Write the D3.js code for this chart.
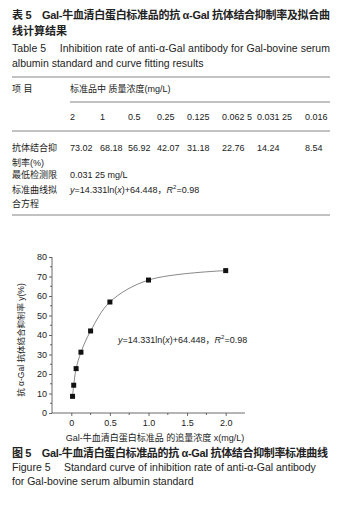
<!DOCTYPE html>
<html>
<head>
<meta charset="utf-8">
<script src="https://cdn.jsdelivr.net/npm/d3@7"></script>
<style>
  body { margin: 0; background: #fff; }
  text { font-family: "Liberation Sans", Arial, "Noto Sans CJK SC", sans-serif; fill: #222; }
</style>
</head>
<body>
<div id="chart"></div>
<script>
// concentrations (mg/L) and inhibition rates (%)
const concentrations = [2, 1, 0.5, 0.25, 0.125, 0.0625, 0.03125, 0.016];
const concLabels = ["2", "1", "0.5", "0.25", "0.125", "0.062 5", "0.031 25", "0.016"];
const inhibition = [73.02, 68.18, 56.92, 42.07, 31.18, 22.76, 14.24, 8.54];
const xTicks = [0, 0.5, 1.0, 1.5, 2.0];
const yTicks = [0, 10, 20, 30, 40, 50, 60, 70, 80];

const W = 338, H = 505;
let svg = d3.select("#chart").append("svg")
  .attr("width", W).attr("height", H);

//table title lines
const cjk = "\"Noto Sans CJK SC\", sans-serif";
function line(x, y, txt, size, opts) {
  let t = svg.append("text").attr("x", x).attr("y", y)
    .attr("dominant-baseline", "central")
    .style("font-size", size + "px").text(txt);
  if (opts && opts.bold) t.style("font-weight", "bold");
  if (opts && opts.len) t.attr("textLength", opts.len).attr("lengthAdjust", "spacing");
  return t;
}

line(12, 15, "表 5\u2003Gal-牛血清白蛋白标准品的抗 α-Gal 抗体结合抑制率及拟合曲", 11, {bold: true, len: 318});
line(12, 31, "线计算结果", 11, {bold: true});
line(12, 48, "Table 5\u2003 Inhibition rate of anti-α-Gal antibody for Gal-bovine serum", 10.5, {len: 318});
line(12, 63, "albumin standard and curve fitting results", 10.5);

//table rules
[[12, 330, 77], [70, 330, 102], [12, 330, 131], [12, 330, 215]].forEach(r => {
  svg.append("line").attr("x1", r[0]).attr("x2", r[1]).attr("y1", r[2]).attr("y2", r[2])
    .attr("stroke", "#666").attr("stroke-width", 0.8);
});

line(12, 89, "项 目", 9);
line(70, 89, "标准品中 质量浓度(mg/L)", 9);

//table columns
let colX = d3.scaleOrdinal()
  .domain(d3.range(concentrations.length))
  .range([70, 100, 128, 157, 187, 222, 257, 305]);

svg.append("g").selectAll("text")
  .data(concLabels).enter().append("text")
  .attr("x", (d, i) => colX(i)).attr("y", 117)
  .attr("dominant-baseline", "central")
  .style("font-size", "9px").text(d => d);

line(12, 148, "抗体结合抑", 9);
line(12, 163, "制率(%)", 9);
svg.append("g").selectAll("text")
  .data(inhibition).enter().append("text")
  .attr("x", (d, i) => colX(i)).attr("y", 148)
  .attr("dominant-baseline", "central")
  .style("font-size", "9px").text(d => d.toFixed(2));

line(12, 175, "最低检测限", 9);
line(70, 175, "0.031 25 mg/L", 9);
line(12, 190, "标准曲线拟", 9);
let eq = line(70, 190, "", 9);
eq.append("tspan").style("font-style", "italic").text("y");
eq.append("tspan").text("=14.331ln(");
eq.append("tspan").style("font-style", "italic").text("x");
eq.append("tspan").text(")+64.448，");
eq.append("tspan").style("font-style", "italic").text("R");
eq.append("tspan").attr("dy", -3).style("font-size", "6px").text("2");
eq.append("tspan").attr("dy", 3).text("=0.98");
line(12, 204, "合方程", 9);

//chart scales
let xScale = d3.scaleLinear().domain([-0.25, 2.25]).range([52, 245]);
let yScale = d3.scaleLinear().domain([0, 80]).range([413, 257]);

let xAxis = d3.axisBottom(xScale).tickValues(xTicks).tickFormat(d3.format(".1f")).tickSize(3).tickPadding(4);
let yAxis = d3.axisLeft(yScale).tickValues(yTicks).tickSize(3).tickPadding(2);

let gx = svg.append("g").attr("transform", "translate(0," + yScale(0) + ")").call(xAxis);
gx.select(".domain").attr("d", "M" + xScale.range()[0] + ",0H" + xScale.range()[1]);
gx.selectAll(".tick").filter(d => d === 0).select("text").text("0");
let gy = svg.append("g").attr("transform", "translate(" + xScale(-0.25) + ",0)").call(yAxis);
gy.select(".domain").attr("d", "M0," + yScale.range()[0] + "V" + yScale.range()[1]);

[gx, gy].forEach(g => {
  g.selectAll("path, line").attr("stroke", "#444").attr("stroke-width", 0.8);
  g.selectAll("text").style("font-size", "9px").attr("fill", "#222")
    .style("font-family", "\"Liberation Sans\", Arial, sans-serif");
});

//minor ticks
let minorX = d3.range(0.25, 2.25, 0.5);
svg.append("g").selectAll("line").data(minorX).enter().append("line")
  .attr("x1", d => xScale(d)).attr("x2", d => xScale(d))
  .attr("y1", yScale(0)).attr("y2", yScale(0) + 2)
  .attr("stroke", "#444").attr("stroke-width", 0.8);
let minorY = d3.range(5, 80, 10);
svg.append("g").selectAll("line").data(minorY).enter().append("line")
  .attr("x1", xScale(-0.25) - 2).attr("x2", xScale(-0.25))
  .attr("y1", d => yScale(d)).attr("y2", d => yScale(d))
  .attr("stroke", "#444").attr("stroke-width", 0.8);

//curve through points
let pts = concentrations.map((c, i) => [c, inhibition[i]]).sort((a, b) => a[0] - b[0]);
let lineGen = d3.line().x(d => xScale(d[0])).y(d => yScale(d[1])).curve(d3.curveCatmullRom);
svg.append("path").attr("d", lineGen(pts))
  .attr("fill", "none").attr("stroke", "#555").attr("stroke-width", 0.7);

svg.append("g").selectAll("rect").data(pts).enter().append("rect")
  .attr("x", d => xScale(d[0]) - 2.5).attr("y", d => yScale(d[1]) - 2.5)
  .attr("width", 5).attr("height", 5).attr("fill", "#111");

//equation annotation
let ann = svg.append("text").attr("x", 118).attr("y", 340)
  .attr("dominant-baseline", "central").style("font-size", "9px");
ann.append("tspan").style("font-style", "italic").text("y");
ann.append("tspan").text("=14.331ln(");
ann.append("tspan").style("font-style", "italic").text("x");
ann.append("tspan").text(")+64.448，");
ann.append("tspan").style("font-style", "italic").text("R");
ann.append("tspan").attr("dy", -3).style("font-size", "6px").text("2");
ann.append("tspan").attr("dy", 3).text("=0.98");

//axis titles
svg.append("text")
  .attr("transform", "translate(21," + 340 + ") rotate(-90)")
  .attr("text-anchor", "middle").attr("dominant-baseline", "central")
  .style("font-size", "8.5px").text("抗 α-Gal 抗体结合抑制率 y(%)");
svg.append("text").attr("x", 155).attr("y", 438)
  .attr("text-anchor", "middle").attr("dominant-baseline", "central")
  .style("font-size", "9px").text("Gal-牛血清白蛋白标准品 的追量浓度 x(mg/L)");

//figure caption
line(12, 453, "图 5\u2003Gal-牛血清白蛋白标准品的抗 α-Gal 抗体结合抑制率标准曲线", 11, {bold: true, len: 316});
line(12, 467, "Figure 5\u2003 Standard curve of inhibition rate of anti-α-Gal antibody", 10.5);
line(12, 481, "for Gal-bovine serum albumin standard", 10.5);
</script>
</body>
</html>
